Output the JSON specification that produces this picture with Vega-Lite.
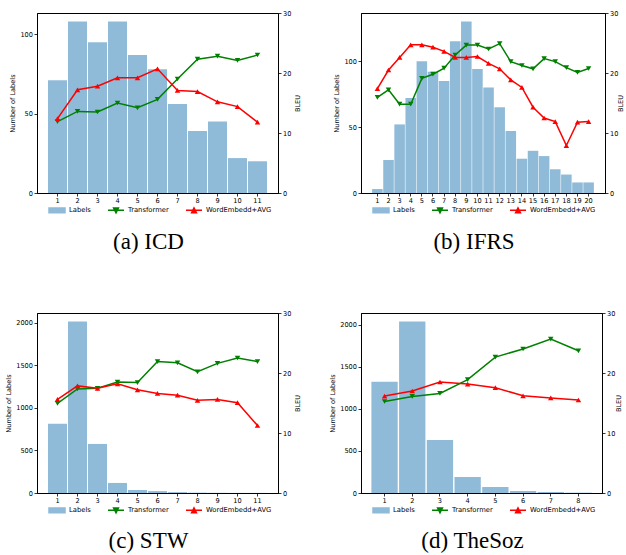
{
  "$schema": "https://vega.github.io/schema/vega-lite/v6.json",
  "autosize": {"type": "pad"},
  "padding": {"left": 5, "top": 9, "right": 0, "bottom": 0},
  "background": "white",
  "config": {
    "font": "DejaVu Sans",
    "view": {"stroke": "black", "strokeWidth": 1},
    "axis": {"domainColor": "black", "tickColor": "black", "labelColor": "black", "titleColor": "black", "labelFontSize": 6.6, "titleFontSize": 6.6, "titleFontWeight": "normal", "grid": false, "tickSize": 3, "domainWidth": 1, "tickWidth": 0.8, "labelPadding": 1.5, "titlePadding": 4, "labelFont": "DejaVu Sans", "titleFont": "DejaVu Sans"},
    "legend": {"labelFont": "DejaVu Sans", "labelFontSize": 6.8, "labelColor": "black", "padding": 0},
    "title": {"font": "Liberation Serif", "fontSize": 23, "fontWeight": "normal", "color": "black", "frame": "group", "anchor": "middle", "dx": -9}
  },
  "datasets": {
    "icd": [
      {"k": 1, "labels": 71, "Transformer": 11.9, "WordEmbedd+AVG": 12.4},
      {"k": 2, "labels": 108, "Transformer": 13.6, "WordEmbedd+AVG": 17.2},
      {"k": 3, "labels": 95, "Transformer": 13.5, "WordEmbedd+AVG": 17.8},
      {"k": 4, "labels": 108, "Transformer": 15.0, "WordEmbedd+AVG": 19.2},
      {"k": 5, "labels": 87, "Transformer": 14.2, "WordEmbedd+AVG": 19.2},
      {"k": 6, "labels": 78, "Transformer": 15.6, "WordEmbedd+AVG": 20.7},
      {"k": 7, "labels": 56, "Transformer": 19.0, "WordEmbedd+AVG": 17.1},
      {"k": 8, "labels": 39, "Transformer": 22.3, "WordEmbedd+AVG": 16.9},
      {"k": 9, "labels": 45, "Transformer": 22.8, "WordEmbedd+AVG": 15.2},
      {"k": 10, "labels": 22, "Transformer": 22.1, "WordEmbedd+AVG": 14.4},
      {"k": 11, "labels": 20, "Transformer": 23.0, "WordEmbedd+AVG": 11.8}
    ],
    "ifrs": [
      {"k": 1, "labels": 3, "Transformer": 15.95, "WordEmbedd+AVG": 17.4},
      {"k": 2, "labels": 25, "Transformer": 17.2, "WordEmbedd+AVG": 20.5},
      {"k": 3, "labels": 52, "Transformer": 14.8, "WordEmbedd+AVG": 22.6},
      {"k": 4, "labels": 72, "Transformer": 14.8, "WordEmbedd+AVG": 24.7},
      {"k": 5, "labels": 100, "Transformer": 19.1, "WordEmbedd+AVG": 24.7},
      {"k": 6, "labels": 92, "Transformer": 19.8, "WordEmbedd+AVG": 24.3},
      {"k": 7, "labels": 85, "Transformer": 20.8, "WordEmbedd+AVG": 23.6},
      {"k": 8, "labels": 115, "Transformer": 23.0, "WordEmbedd+AVG": 22.6},
      {"k": 9, "labels": 130, "Transformer": 24.65, "WordEmbedd+AVG": 22.6},
      {"k": 10, "labels": 94, "Transformer": 24.65, "WordEmbedd+AVG": 22.75},
      {"k": 11, "labels": 80, "Transformer": 24.0, "WordEmbedd+AVG": 21.6},
      {"k": 12, "labels": 65, "Transformer": 24.9, "WordEmbedd+AVG": 20.7},
      {"k": 13, "labels": 47, "Transformer": 21.9, "WordEmbedd+AVG": 18.85},
      {"k": 14, "labels": 26, "Transformer": 21.25, "WordEmbedd+AVG": 17.6},
      {"k": 15, "labels": 32, "Transformer": 20.7, "WordEmbedd+AVG": 14.3},
      {"k": 16, "labels": 28, "Transformer": 22.4, "WordEmbedd+AVG": 12.5},
      {"k": 17, "labels": 18, "Transformer": 21.9, "WordEmbedd+AVG": 11.9},
      {"k": 18, "labels": 14, "Transformer": 20.9, "WordEmbedd+AVG": 7.9},
      {"k": 19, "labels": 8, "Transformer": 20.1, "WordEmbedd+AVG": 11.8},
      {"k": 20, "labels": 8, "Transformer": 20.75, "WordEmbedd+AVG": 11.9}
    ],
    "stw": [
      {"k": 1, "labels": 812, "Transformer": 14.95, "WordEmbedd+AVG": 15.6},
      {"k": 2, "labels": 2012, "Transformer": 17.35, "WordEmbedd+AVG": 17.85},
      {"k": 3, "labels": 576, "Transformer": 17.45, "WordEmbedd+AVG": 17.45},
      {"k": 4, "labels": 118, "Transformer": 18.5, "WordEmbedd+AVG": 18.2},
      {"k": 5, "labels": 35, "Transformer": 18.4, "WordEmbedd+AVG": 17.2},
      {"k": 6, "labels": 22, "Transformer": 21.9, "WordEmbedd+AVG": 16.6},
      {"k": 7, "labels": 10, "Transformer": 21.7, "WordEmbedd+AVG": 16.3},
      {"k": 8, "labels": 4, "Transformer": 20.2, "WordEmbedd+AVG": 15.45},
      {"k": 9, "labels": 2, "Transformer": 21.6, "WordEmbedd+AVG": 15.6},
      {"k": 10, "labels": 1, "Transformer": 22.5, "WordEmbedd+AVG": 15.05},
      {"k": 11, "labels": 1, "Transformer": 21.9, "WordEmbedd+AVG": 11.25}
    ],
    "thesoz": [
      {"k": 1, "labels": 1321, "Transformer": 15.25, "WordEmbedd+AVG": 16.15},
      {"k": 2, "labels": 2036, "Transformer": 16.1, "WordEmbedd+AVG": 17.0},
      {"k": 3, "labels": 631, "Transformer": 16.6, "WordEmbedd+AVG": 18.5},
      {"k": 4, "labels": 190, "Transformer": 18.9, "WordEmbedd+AVG": 18.15},
      {"k": 5, "labels": 71, "Transformer": 22.65, "WordEmbedd+AVG": 17.55},
      {"k": 6, "labels": 24, "Transformer": 24.0, "WordEmbedd+AVG": 16.2},
      {"k": 7, "labels": 12, "Transformer": 25.65, "WordEmbedd+AVG": 15.85},
      {"k": 8, "labels": 4, "Transformer": 23.7, "WordEmbedd+AVG": 15.5}
    ]
  },
  "columns": 2,
  "bounds": "flush",
  "spacing": {"row": 120, "column": 83},
  "resolve": {
    "scale": {"color": "independent", "shape": "independent", "x": "independent", "y": "independent"},
    "legend": {"color": "independent", "shape": "independent"}
  },
  "concat": [
    {
      "width": 241, "height": 180,
      "data": {"name": "icd"},
      "title": {"text": "(a) ICD", "orient": "bottom", "offset": 15},
      "layer": [
        {
          "mark": {"type": "bar", "color": "#8fbbd9"},
          "encoding": {
            "x": {"field": "k", "type": "ordinal", "scale": {"paddingInner": 0.05, "paddingOuter": 0.55}, "axis": {"title": null, "labelAngle": 0}},
            "y": {"field": "labels", "type": "quantitative", "scale": {"domain": [0, 113.4], "nice": false}, "axis": {"title": "Number of Labels", "values": [0, 50, 100], "format": "d"}},
            "color": {"datum": "Labels", "type": "nominal", "scale": {"domain": ["Labels", "Transformer", "WordEmbedd+AVG"], "range": ["#8fbbd9", "#008000", "#ff0000"]},
              "legend": {"title": null, "orient": "none", "legendX": 11, "legendY": 188, "direction": "horizontal", "symbolSize": 256, "columnPadding": 14, "labelOffset": 3,
                "encode": {"symbols": {"update": {
                  "shape": {"signal": "datum.value === 'Labels' ? 'M-1,-0.3H1V0.3H-1Z' : datum.value === 'Transformer' ? 'M-1,0H1M-0.3,-0.3H0.3L0,0.3Z' : 'M-1,0H1M-0.3,0.3H0.3L0,-0.3Z'"},
                  "fill": {"signal": "datum.value === 'Labels' ? '#8fbbd9' : datum.value === 'Transformer' ? '#008000' : '#ff0000'"},
                  "stroke": {"signal": "datum.value === 'Labels' ? null : datum.value === 'Transformer' ? '#008000' : '#ff0000'"},
                  "strokeWidth": {"value": 1.5}, "opacity": {"value": 1}, "fillOpacity": {"value": 1}, "strokeOpacity": {"value": 1}}}}}}
          }
        },
        {
          "transform": [{"fold": ["Transformer", "WordEmbedd+AVG"], "as": ["series", "bleu"]}],
          "encoding": {
            "x": {"field": "k", "type": "ordinal"},
            "y": {"field": "bleu", "type": "quantitative", "scale": {"domain": [0, 30], "nice": false}, "axis": {"orient": "right", "title": "BLEU", "titleAngle": 270, "values": [0, 10, 20, 30], "titlePadding": 10}},
            "color": {"field": "series", "type": "nominal", "scale": {"domain": ["Labels", "Transformer", "WordEmbedd+AVG"], "range": ["#8fbbd9", "#008000", "#ff0000"]}, "legend": {"title": null}}
          },
          "layer": [
            {"mark": {"type": "line", "strokeWidth": 1.5}},
            {"mark": {"type": "point", "filled": true, "opacity": 1, "size": 30},
             "encoding": {"shape": {"field": "series", "type": "nominal", "scale": {"domain": ["Transformer", "WordEmbedd+AVG"], "range": ["triangle-down", "triangle-up"]}, "legend": null}}}
          ]
        }
      ],
      "resolve": {"scale": {"y": "independent"}}
    },
    {
      "width": 244, "height": 180,
      "data": {"name": "ifrs"},
      "title": {"text": "(b) IFRS", "orient": "bottom", "offset": 15},
      "layer": [
        {
          "mark": {"type": "bar", "color": "#8fbbd9"},
          "encoding": {
            "x": {"field": "k", "type": "ordinal", "scale": {"paddingInner": 0.05, "paddingOuter": 1.07}, "axis": {"title": null, "labelAngle": 0}},
            "y": {"field": "labels", "type": "quantitative", "scale": {"domain": [0, 136.5], "nice": false}, "axis": {"title": "Number of Labels", "values": [0, 50, 100], "format": "d"}},
            "color": {"datum": "Labels", "type": "nominal", "scale": {"domain": ["Labels", "Transformer", "WordEmbedd+AVG"], "range": ["#8fbbd9", "#008000", "#ff0000"]},
              "legend": {"title": null, "orient": "none", "legendX": 11, "legendY": 188, "direction": "horizontal", "symbolSize": 256, "columnPadding": 14, "labelOffset": 3,
                "encode": {"symbols": {"update": {
                  "shape": {"signal": "datum.value === 'Labels' ? 'M-1,-0.3H1V0.3H-1Z' : datum.value === 'Transformer' ? 'M-1,0H1M-0.3,-0.3H0.3L0,0.3Z' : 'M-1,0H1M-0.3,0.3H0.3L0,-0.3Z'"},
                  "fill": {"signal": "datum.value === 'Labels' ? '#8fbbd9' : datum.value === 'Transformer' ? '#008000' : '#ff0000'"},
                  "stroke": {"signal": "datum.value === 'Labels' ? null : datum.value === 'Transformer' ? '#008000' : '#ff0000'"},
                  "strokeWidth": {"value": 1.5}, "opacity": {"value": 1}, "fillOpacity": {"value": 1}, "strokeOpacity": {"value": 1}}}}}}
          }
        },
        {
          "transform": [{"fold": ["Transformer", "WordEmbedd+AVG"], "as": ["series", "bleu"]}],
          "encoding": {
            "x": {"field": "k", "type": "ordinal"},
            "y": {"field": "bleu", "type": "quantitative", "scale": {"domain": [0, 30], "nice": false}, "axis": {"orient": "right", "title": "BLEU", "titleAngle": 270, "values": [0, 10, 20, 30], "titlePadding": 6}},
            "color": {"field": "series", "type": "nominal", "scale": {"domain": ["Labels", "Transformer", "WordEmbedd+AVG"], "range": ["#8fbbd9", "#008000", "#ff0000"]}, "legend": {"title": null}}
          },
          "layer": [
            {"mark": {"type": "line", "strokeWidth": 1.5}},
            {"mark": {"type": "point", "filled": true, "opacity": 1, "size": 30},
             "encoding": {"shape": {"field": "series", "type": "nominal", "scale": {"domain": ["Transformer", "WordEmbedd+AVG"], "range": ["triangle-down", "triangle-up"]}, "legend": null}}}
          ]
        }
      ],
      "resolve": {"scale": {"y": "independent"}}
    },
    {
      "width": 241, "height": 180,
      "data": {"name": "stw"},
      "title": {"text": "(c) STW", "orient": "bottom", "offset": 14},
      "layer": [
        {
          "mark": {"type": "bar", "color": "#8fbbd9"},
          "encoding": {
            "x": {"field": "k", "type": "ordinal", "scale": {"paddingInner": 0.05, "paddingOuter": 0.55}, "axis": {"title": null, "labelAngle": 0}},
            "y": {"field": "labels", "type": "quantitative", "scale": {"domain": [0, 2113], "nice": false}, "axis": {"title": "Number of Labels", "values": [0, 500, 1000, 1500, 2000], "format": "d"}},
            "color": {"datum": "Labels", "type": "nominal", "scale": {"domain": ["Labels", "Transformer", "WordEmbedd+AVG"], "range": ["#8fbbd9", "#008000", "#ff0000"]},
              "legend": {"title": null, "orient": "none", "legendX": 11, "legendY": 188, "direction": "horizontal", "symbolSize": 256, "columnPadding": 14, "labelOffset": 3,
                "encode": {"symbols": {"update": {
                  "shape": {"signal": "datum.value === 'Labels' ? 'M-1,-0.3H1V0.3H-1Z' : datum.value === 'Transformer' ? 'M-1,0H1M-0.3,-0.3H0.3L0,0.3Z' : 'M-1,0H1M-0.3,0.3H0.3L0,-0.3Z'"},
                  "fill": {"signal": "datum.value === 'Labels' ? '#8fbbd9' : datum.value === 'Transformer' ? '#008000' : '#ff0000'"},
                  "stroke": {"signal": "datum.value === 'Labels' ? null : datum.value === 'Transformer' ? '#008000' : '#ff0000'"},
                  "strokeWidth": {"value": 1.5}, "opacity": {"value": 1}, "fillOpacity": {"value": 1}, "strokeOpacity": {"value": 1}}}}}}
          }
        },
        {
          "transform": [{"fold": ["Transformer", "WordEmbedd+AVG"], "as": ["series", "bleu"]}],
          "encoding": {
            "x": {"field": "k", "type": "ordinal"},
            "y": {"field": "bleu", "type": "quantitative", "scale": {"domain": [0, 30], "nice": false}, "axis": {"orient": "right", "title": "BLEU", "titleAngle": 270, "values": [0, 10, 20, 30], "titlePadding": 10}},
            "color": {"field": "series", "type": "nominal", "scale": {"domain": ["Labels", "Transformer", "WordEmbedd+AVG"], "range": ["#8fbbd9", "#008000", "#ff0000"]}, "legend": {"title": null}}
          },
          "layer": [
            {"mark": {"type": "line", "strokeWidth": 1.5}},
            {"mark": {"type": "point", "filled": true, "opacity": 1, "size": 30},
             "encoding": {"shape": {"field": "series", "type": "nominal", "scale": {"domain": ["Transformer", "WordEmbedd+AVG"], "range": ["triangle-down", "triangle-up"]}, "legend": null}}}
          ]
        }
      ],
      "resolve": {"scale": {"y": "independent"}}
    },
    {
      "width": 241, "height": 180,
      "data": {"name": "thesoz"},
      "title": {"text": "(d) TheSoz", "orient": "bottom", "offset": 14},
      "layer": [
        {
          "mark": {"type": "bar", "color": "#8fbbd9"},
          "encoding": {
            "x": {"field": "k", "type": "ordinal", "scale": {"paddingInner": 0.05, "paddingOuter": 0.375}, "axis": {"title": null, "labelAngle": 0}},
            "y": {"field": "labels", "type": "quantitative", "scale": {"domain": [0, 2138], "nice": false}, "axis": {"title": "Number of Labels", "values": [0, 500, 1000, 1500, 2000], "format": "d"}},
            "color": {"datum": "Labels", "type": "nominal", "scale": {"domain": ["Labels", "Transformer", "WordEmbedd+AVG"], "range": ["#8fbbd9", "#008000", "#ff0000"]},
              "legend": {"title": null, "orient": "none", "legendX": 11, "legendY": 188, "direction": "horizontal", "symbolSize": 256, "columnPadding": 14, "labelOffset": 3,
                "encode": {"symbols": {"update": {
                  "shape": {"signal": "datum.value === 'Labels' ? 'M-1,-0.3H1V0.3H-1Z' : datum.value === 'Transformer' ? 'M-1,0H1M-0.3,-0.3H0.3L0,0.3Z' : 'M-1,0H1M-0.3,0.3H0.3L0,-0.3Z'"},
                  "fill": {"signal": "datum.value === 'Labels' ? '#8fbbd9' : datum.value === 'Transformer' ? '#008000' : '#ff0000'"},
                  "stroke": {"signal": "datum.value === 'Labels' ? null : datum.value === 'Transformer' ? '#008000' : '#ff0000'"},
                  "strokeWidth": {"value": 1.5}, "opacity": {"value": 1}, "fillOpacity": {"value": 1}, "strokeOpacity": {"value": 1}}}}}}
          }
        },
        {
          "transform": [{"fold": ["Transformer", "WordEmbedd+AVG"], "as": ["series", "bleu"]}],
          "encoding": {
            "x": {"field": "k", "type": "ordinal"},
            "y": {"field": "bleu", "type": "quantitative", "scale": {"domain": [0, 30], "nice": false}, "axis": {"orient": "right", "title": "BLEU", "titleAngle": 270, "values": [0, 10, 20, 30], "titlePadding": 7}},
            "color": {"field": "series", "type": "nominal", "scale": {"domain": ["Labels", "Transformer", "WordEmbedd+AVG"], "range": ["#8fbbd9", "#008000", "#ff0000"]}, "legend": {"title": null}}
          },
          "layer": [
            {"mark": {"type": "line", "strokeWidth": 1.5}},
            {"mark": {"type": "point", "filled": true, "opacity": 1, "size": 30},
             "encoding": {"shape": {"field": "series", "type": "nominal", "scale": {"domain": ["Transformer", "WordEmbedd+AVG"], "range": ["triangle-down", "triangle-up"]}, "legend": null}}}
          ]
        }
      ],
      "resolve": {"scale": {"y": "independent"}}
    }
  ]
}
